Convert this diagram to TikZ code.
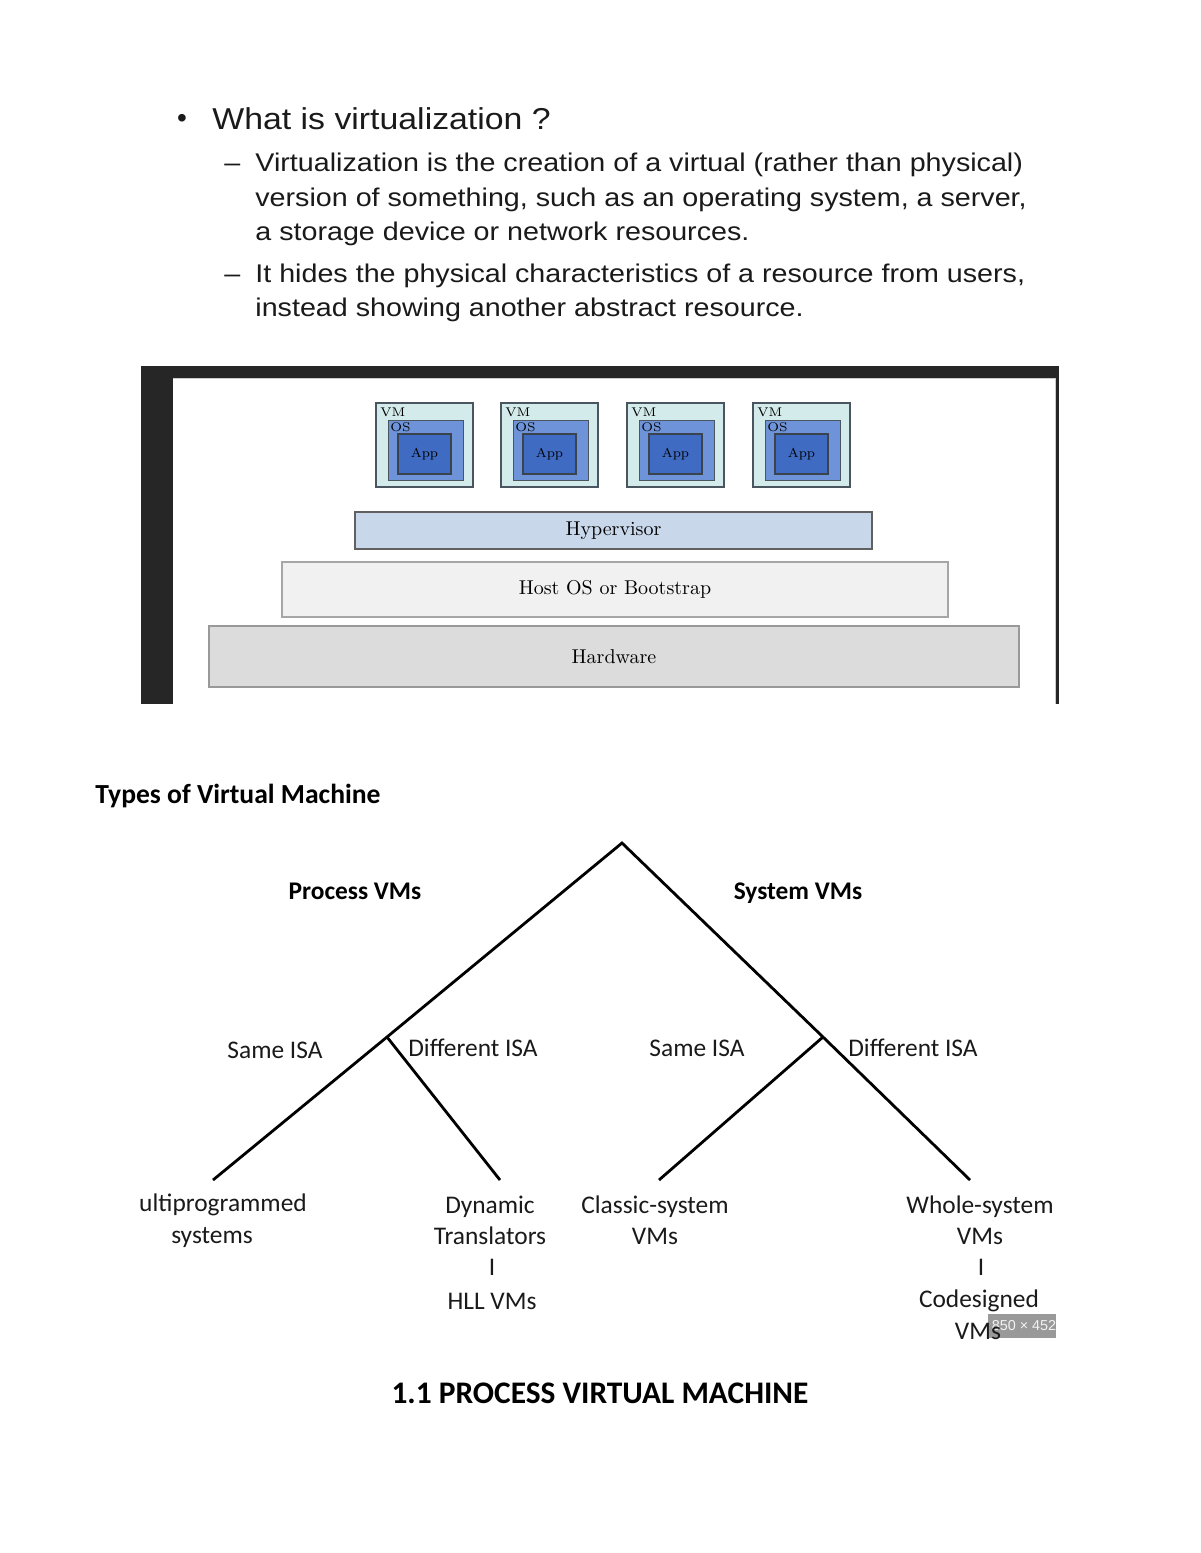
\documentclass[tikz,border=0pt]{standalone}
\usepackage{fontspec}
\newfontfamily\arialf{Liberation Sans}
\newfontfamily\arialw[FakeStretch=1.12]{Liberation Sans}
\newfontfamily\calf{Carlito}
\definecolor{frame}{HTML}{262626}
\definecolor{vmcyan}{HTML}{D4EBEC}
\definecolor{osblue}{HTML}{6E93D8}
\definecolor{appblue}{HTML}{3F6BC2}
\definecolor{boxline}{HTML}{4A5560}
\definecolor{hypfill}{HTML}{C8D7EA}
\definecolor{hostfill}{HTML}{F1F1F1}
\definecolor{hwfill}{HTML}{DCDCDC}
\definecolor{txt}{HTML}{1A1A1A}
\begin{document}
\begin{tikzpicture}[x=0.5pt,y=-0.5pt,
  toptext/.style={anchor=base west,inner sep=0,text=txt,font=\arialw\fontsize{12.8}{15}\selectfont},
  vmbox/.style={draw=boxline,fill=vmcyan,line width=0.6pt,minimum width=48.5pt,minimum height=42pt,inner sep=0},
  osbox/.style={draw=boxline,fill=osblue,line width=0.5pt,minimum width=37.5pt,minimum height=30pt,inner sep=0},
  appbox/.style={draw=boxline!80!black,fill=appblue,line width=0.6pt,minimum width=26.5pt,minimum height=20pt,inner sep=0,font=\fontsize{6.5}{7}\selectfont},
  tinylbl/.style={anchor=west,inner sep=0,font=\fontsize{6.3}{7}\selectfont},
  layer/.style={line width=0.7pt,inner sep=0,font=\fontsize{10}{12}\selectfont},
  branch/.style={line width=1.4pt,black},
  tlabel/.style={anchor=base,inner sep=0,font=\calf\fontsize{12.7}{15}\selectfont,text=txt},
  tbold/.style={anchor=base,inner sep=0,font=\calf\bfseries\fontsize{12.7}{15}\selectfont,text=black},
  leaf/.style={inner sep=0,align=center,font=\calf\fontsize{12.7}{15.5}\selectfont,text=txt}
]
\useasboundingbox (0,0) rectangle (1200,1553);
\fill[white] (0,0) rectangle (1200,1553);

% ---------- top text ----------
\node[anchor=center,inner sep=0,text=txt,font=\arialf\fontsize{14}{14}\selectfont] (bul) at (182,121) {•};
\node[toptext,font=\arialw\fontsize{15.1}{18}\selectfont] (title) at (212,129) {What is virtualization ?};
\node[toptext] (d1) at (224,171.5) {–};
\node[toptext] (l1) at (255,171.5) {Virtualization is the creation of a virtual (rather than physical)};
\node[toptext] (l2) at (255,206.5) {version of something, such as an operating system, a server,};
\node[toptext] (l3) at (255,240) {a storage device or network resources.};
\node[toptext] (d2) at (224,282) {–};
\node[toptext] (l4) at (255,282) {It hides the physical characteristics of a resource from users,};
\node[toptext] (l5) at (255,316) {instead showing another abstract resource.};

% ---------- virtualization panel ----------
\fill[frame] (141,366) rectangle (1059,704);
\fill[white] (173,378) rectangle (1055,704);
\draw[gray!40,line width=0.5pt] (173,378) -- (1055,378) -- (1055,704);

\foreach \i/\x in {1/376,2/501,3/627,4/753}{
  \node[vmbox] (vm\i) at (\x+48.5,445) {};
  \node[osbox] (os\i) at (\x+49.5,450) {};
  \node[appbox] (app\i) at (\x+48.5,454) {App};
  \node[tinylbl] (vml\i) at (\x+4,412) {VM};
  \node[tinylbl] (osl\i) at (\x+14,427) {OS};
}

\node[layer,draw=gray!75!black,fill=hypfill,minimum width=258.5pt,minimum height=18.5pt] (hyp) at (613.5,530.5) {Hypervisor};
\node[layer,draw=gray!70,fill=hostfill,minimum width=333pt,minimum height=27.5pt] (host) at (615,589.5) {Host OS or Bootstrap};
\node[layer,draw=gray!80,fill=hwfill,minimum width=405pt,minimum height=30.5pt] (hw) at (614,656.5) {Hardware};

% ---------- types of VM ----------
\node[anchor=west,inner sep=0,font=\calf\bfseries\fontsize{13.8}{16}\selectfont] (types) at (95,796) {Types of Virtual Machine};

\coordinate (apex) at (622,843);
\coordinate (lj) at (387,1037);
\coordinate (rj) at (823,1037);
\coordinate (e1) at (213,1180);
\coordinate (e2) at (500,1180);
\coordinate (e3) at (659,1180);
\coordinate (e4) at (970,1180);
\draw[branch,line join=miter] (e1) -- (lj) -- (apex) -- (rj) -- (e4);
\draw[branch] (lj) -- (e2);
\draw[branch] (rj) -- (e3);

\node[tbold] (proc) at (355,899) {Process VMs};
\node[tbold] (sys) at (798,899) {System VMs};
\node[tlabel] (s1) at (275,1058) {Same ISA};
\node[tlabel] (d1i) at (473,1056) {Different ISA};
\node[tlabel] (s2) at (697,1056) {Same ISA};
\node[tlabel] (d2i) at (913,1056) {Different ISA};

\node[leaf] (multi) at (223,1205) {ultiprogrammed};
\node[leaf] (multi2) at (212,1237) {systems};
\node[leaf] (dyn) at (490,1220) {Dynamic\\Translators};
\node[leaf] (bar1) at (492,1267) {I};
\node[leaf] (hll) at (492,1301) {HLL VMs};
\node[leaf] (classic) at (655,1220) {Classic-system\\VMs};
\node[leaf] (whole) at (980,1220) {Whole-system\\VMs};
\node[leaf] (bar2) at (981,1267) {I};
\node[leaf] (codes) at (979,1301) {Codesigned};

\node[fill=gray!80,text=white!90!gray,inner sep=0,minimum width=30pt,minimum height=12pt,font=\arialf\fontsize{7.2}{8}\selectfont] (badge) at (1022,1326) {\hspace*{2pt}850 × 452};
\node[leaf] (cvms) at (978,1331) {VMs};

\node[inner sep=0,font=\calf\bfseries\fontsize{15.7}{18}\selectfont] (sec) at (600,1393) {1.1 PROCESS VIRTUAL MACHINE};
\end{tikzpicture}
\end{document}
